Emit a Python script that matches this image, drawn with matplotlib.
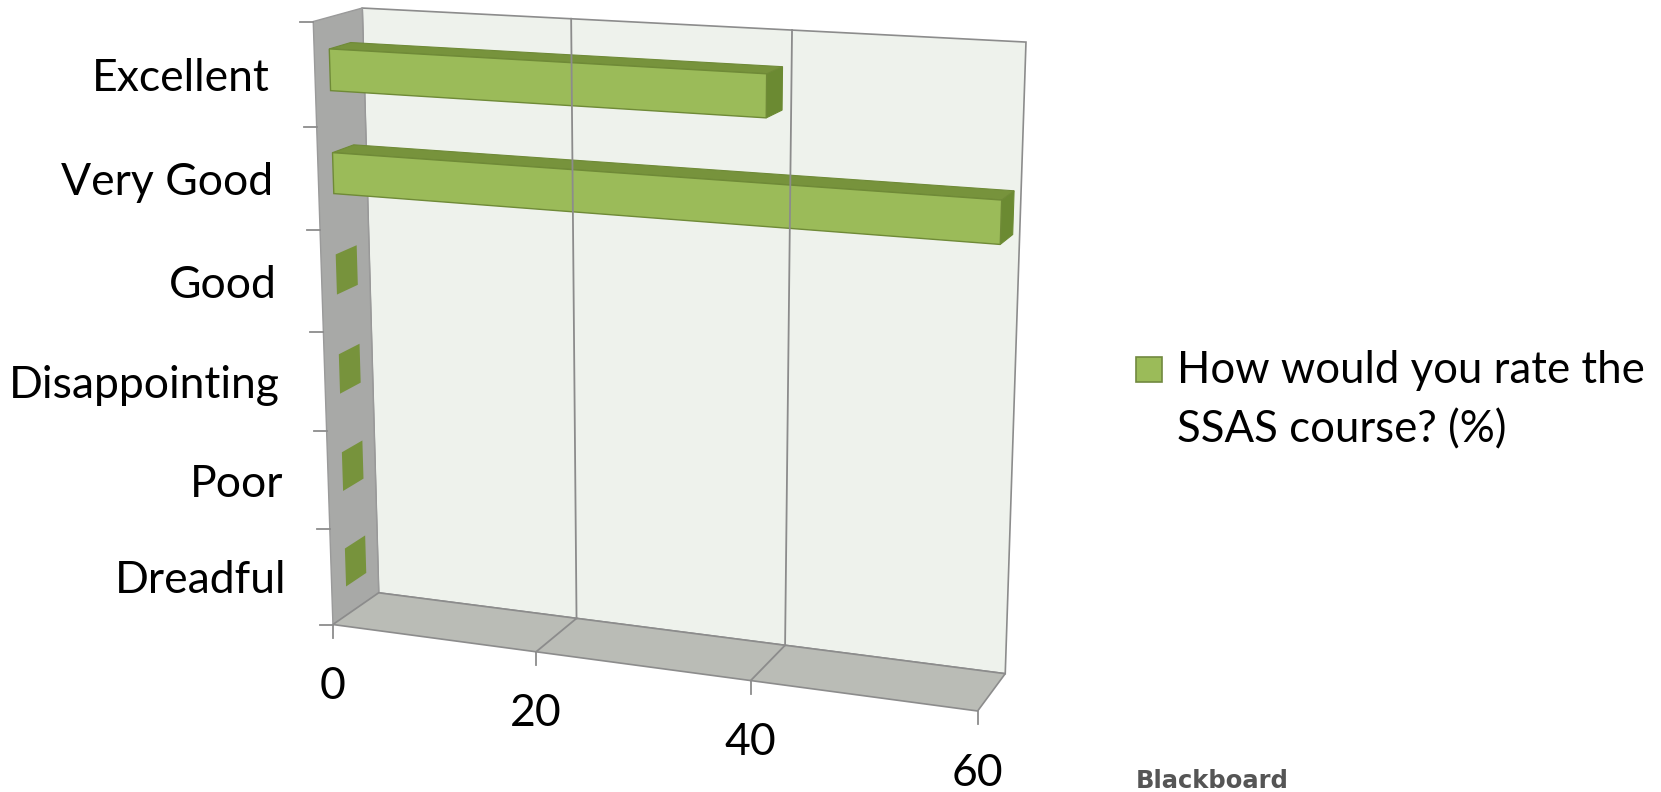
import numpy as np
import matplotlib
matplotlib.use("Agg")
import matplotlib.pyplot as plt
from matplotlib.patches import Polygon, Rectangle

# ── Data ──────────────────────────────────────────────────────────
categories = ["Dreadful", "Poor", "Disappointing", "Good", "Very Good", "Excellent"]
values = [0, 0, 0, 0, 60, 40]
x_ticks = [0, 20, 40, 60]
series_name = "How would you rate the\nSSAS course? (%)"

X_MAX = 60
N_CAT = len(categories)

# ── Perspective camera for the 3D box ─────────────────────────────
# box corners / axis points (value, category, depth) -> pixel
ref_world = [
    (0, 0, 0), (20, 0, 0), (40, 0, 0), (60, 0, 0),
    (0, 0, 1), (20, 0, 1), (40, 0, 1), (60, 0, 1),
    (0, 6, 0), (0, 5, 0), (0, 4, 0), (0, 3, 0), (0, 2, 0), (0, 1, 0),
    (0, 6, 1), (20, 6, 1), (40, 6, 1), (60, 6, 1),
]
ref_pix = [
    (333, 625), (537, 652), (751, 680), (977, 712),
    (379, 593), (576, 619), (784, 645), (1006, 673),
    (313, 22), (316.5, 127), (320, 230), (323, 331), (326.5, 431), (330, 528),
    (362, 8), (572, 19), (792, 30), (1026, 42),
]


def fit_camera(world, pix):
    rows = []
    for (X, Y, Z), (u, v) in zip(world, pix):
        X, Y, u, v = X / X_MAX, Y / N_CAT, u / 1000.0, v / 1000.0
        rows.append([X, Y, Z, 1, 0, 0, 0, 0, -u * X, -u * Y, -u * Z, -u])
        rows.append([0, 0, 0, 0, X, Y, Z, 1, -v * X, -v * Y, -v * Z, -v])
    _, _, vt = np.linalg.svd(np.array(rows, dtype=float))
    return vt[-1].reshape(3, 4)


P = fit_camera(ref_world, ref_pix)


def proj(x, y, z):
    h = P @ np.array([x / X_MAX, y / N_CAT, z, 1.0])
    return (1000.0 * h[0] / h[2], 1000.0 * h[1] / h[2])


def face(pts, **kw):
    return Polygon([proj(*p) for p in pts], closed=True, **kw)


# ── Figure ────────────────────────────────────────────────────────
fig = plt.figure(figsize=(16.61, 7.92), dpi=100)
ax = fig.add_axes([0, 0, 1, 1])
ax.set_xlim(0, 1661)
ax.set_ylim(792, 0)
ax.axis("off")

FONT = "Lato"
EDGE = "#8c8c8c"

# walls and floor
ax.add_patch(face([(0, 0, 1), (X_MAX, 0, 1), (X_MAX, N_CAT, 1), (0, N_CAT, 1)],
                  facecolor="#eef2ec", edgecolor=EDGE, lw=1.2))
ax.add_patch(face([(0, 0, 0), (0, 0, 1), (0, N_CAT, 1), (0, N_CAT, 0)],
                  facecolor="#a8a9a7", edgecolor="#9a9a9a", lw=1.0))
ax.add_patch(face([(0, 0, 0), (X_MAX, 0, 0), (X_MAX, 0, 1), (0, 0, 1)],
                  facecolor="#babcb6", edgecolor=EDGE, lw=1.2))

# gridlines on back wall and floor
for xv in x_ticks[1:-1]:
    ax.plot(*zip(proj(xv, 0, 1), proj(xv, N_CAT, 1)), color=EDGE, lw=1.3)
    ax.plot(*zip(proj(xv, 0, 0), proj(xv, 0, 1)), color=EDGE, lw=1.3)

# bars
BAR_H = 0.2   # half height in category units
Z0, Z1 = 0.3, 0.74
for i, v in enumerate(values):
    y0, y1 = i + 0.5 - BAR_H, i + 0.5 + BAR_H
    if v == 0:
        ax.add_patch(face([(0, y0, Z0), (0, y0, Z1), (0, y1, Z1), (0, y1, Z0)],
                          facecolor="#77933c", edgecolor="none"))
        continue
    ax.add_patch(face([(v, y0, Z0), (v, y0, Z1), (v, y1, Z1), (v, y1, Z0)],
                      facecolor="#6b8a32", edgecolor="#6b8a32", lw=0.8))
    ax.add_patch(face([(0, y1, Z0), (v, y1, Z0), (v, y1, Z1), (0, y1, Z1)],
                      facecolor="#77933c", edgecolor="#6f8a37", lw=0.8))
    ax.add_patch(face([(0, y0, Z0), (v, y0, Z0), (v, y1, Z0), (0, y1, Z0)],
                      facecolor="#9bbb59", edgecolor="#6f8a37", lw=1.0))

# category ticks and labels
for k in range(N_CAT + 1):
    px, py = proj(0, k, 0)
    ax.plot([px - 13, px], [py, py], color=EDGE, lw=1.3)
for i, name in enumerate(categories):
    px, py = proj(0, i + 0.5, 0)
    ax.text(px - 45, py + 4, name, ha="right", va="center",
            fontsize=32, family=FONT, color="black")

# value ticks and labels
for xv in x_ticks:
    px, py = proj(xv, 0, 0)
    ax.plot([px, px], [py, py + 13], color=EDGE, lw=1.3)
    ax.text(px, py + 62, str(xv), ha="center", va="center",
            fontsize=32, family=FONT, color="black")

# legend
ax.add_patch(Rectangle((1136, 357), 26, 25, facecolor="#9bbb59",
                       edgecolor="#71893f", lw=1.2))
ax.text(1177, 383, series_name.split("\n")[0], ha="left", va="baseline",
        fontsize=31.5, family=FONT, color="black")
ax.text(1177, 442, series_name.split("\n")[1], ha="left", va="baseline",
        fontsize=31.5, family=FONT, color="black")

ax.text(1136, 788, "Blackboard", ha="left", va="baseline",
        fontsize=17.5, family="DejaVu Sans", fontweight="bold", color="#555555")

fig.savefig("out.png", dpi=100)
